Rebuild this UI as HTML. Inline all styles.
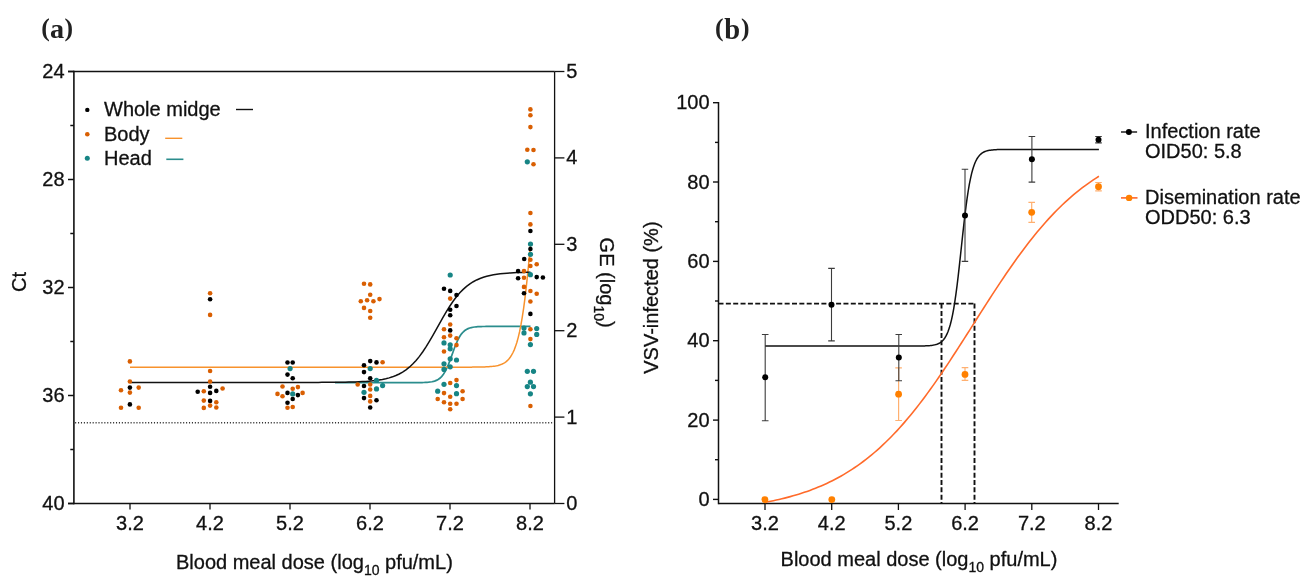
<!DOCTYPE html>
<html><head><meta charset="utf-8"><style>
html,body{margin:0;padding:0;background:#fff;width:1311px;height:588px;overflow:hidden}
svg{display:block;will-change:transform}
.t{font-family:"Liberation Sans",sans-serif;font-size:20px;fill:#111;stroke:#111;stroke-width:0.3px}
.lab{font-family:"Liberation Serif",serif;font-weight:bold;font-size:27px;fill:#222}
</style></head><body>
<svg width="1311" height="588" viewBox="0 0 1311 588">
<rect width="1311" height="588" fill="#fff"/>
<line x1="73.9" y1="70.7" x2="73.9" y2="504.3" stroke="#111" stroke-width="1.6"/>
<line x1="68.0" y1="71.5" x2="554.6" y2="71.5" stroke="#111" stroke-width="1.5"/>
<line x1="68.0" y1="503.5" x2="554.6" y2="503.5" stroke="#111" stroke-width="1.5"/>
<line x1="554.6" y1="71.5" x2="554.6" y2="503.5" stroke="#111" stroke-width="1.3"/>
<line x1="68" y1="71.5" x2="73.9" y2="71.5" stroke="#111" stroke-width="1.5"/>
<text x="64.6" y="78.0" text-anchor="end" class="t">24</text>
<line x1="68" y1="179.5" x2="73.9" y2="179.5" stroke="#111" stroke-width="1.5"/>
<text x="64.6" y="186.0" text-anchor="end" class="t">28</text>
<line x1="68" y1="287.5" x2="73.9" y2="287.5" stroke="#111" stroke-width="1.5"/>
<text x="64.6" y="294.0" text-anchor="end" class="t">32</text>
<line x1="68" y1="395.5" x2="73.9" y2="395.5" stroke="#111" stroke-width="1.5"/>
<text x="64.6" y="402.0" text-anchor="end" class="t">36</text>
<line x1="68" y1="503.5" x2="73.9" y2="503.5" stroke="#111" stroke-width="1.5"/>
<text x="64.6" y="510.0" text-anchor="end" class="t">40</text>
<line x1="70.3" y1="125.5" x2="73.9" y2="125.5" stroke="#111" stroke-width="1.5"/>
<line x1="70.3" y1="233.5" x2="73.9" y2="233.5" stroke="#111" stroke-width="1.5"/>
<line x1="70.3" y1="341.5" x2="73.9" y2="341.5" stroke="#111" stroke-width="1.5"/>
<line x1="70.3" y1="449.5" x2="73.9" y2="449.5" stroke="#111" stroke-width="1.5"/>
<line x1="554.6" y1="503.5" x2="564.4" y2="503.5" stroke="#111" stroke-width="1.3"/>
<text x="566.2" y="510.0" class="t">0</text>
<line x1="554.6" y1="417.1" x2="564.4" y2="417.1" stroke="#111" stroke-width="1.3"/>
<text x="566.2" y="423.6" class="t">1</text>
<line x1="554.6" y1="330.7" x2="564.4" y2="330.7" stroke="#111" stroke-width="1.3"/>
<text x="566.2" y="337.2" class="t">2</text>
<line x1="554.6" y1="244.3" x2="564.4" y2="244.3" stroke="#111" stroke-width="1.3"/>
<text x="566.2" y="250.8" class="t">3</text>
<line x1="554.6" y1="157.9" x2="564.4" y2="157.9" stroke="#111" stroke-width="1.3"/>
<text x="566.2" y="164.4" class="t">4</text>
<line x1="554.6" y1="71.5" x2="564.4" y2="71.5" stroke="#111" stroke-width="1.3"/>
<text x="566.2" y="78.0" class="t">5</text>
<line x1="130.0" y1="503.5" x2="130.0" y2="509.5" stroke="#111" stroke-width="1.3"/>
<text x="130.0" y="530.1" text-anchor="middle" class="t">3.2</text>
<line x1="210.0" y1="503.5" x2="210.0" y2="509.5" stroke="#111" stroke-width="1.3"/>
<text x="210.0" y="530.1" text-anchor="middle" class="t">4.2</text>
<line x1="290.0" y1="503.5" x2="290.0" y2="509.5" stroke="#111" stroke-width="1.3"/>
<text x="290.0" y="530.1" text-anchor="middle" class="t">5.2</text>
<line x1="370.0" y1="503.5" x2="370.0" y2="509.5" stroke="#111" stroke-width="1.3"/>
<text x="370.0" y="530.1" text-anchor="middle" class="t">6.2</text>
<line x1="450.0" y1="503.5" x2="450.0" y2="509.5" stroke="#111" stroke-width="1.3"/>
<text x="450.0" y="530.1" text-anchor="middle" class="t">7.2</text>
<line x1="530.0" y1="503.5" x2="530.0" y2="509.5" stroke="#111" stroke-width="1.3"/>
<text x="530.0" y="530.1" text-anchor="middle" class="t">8.2</text>
<line x1="75.1" y1="422.8" x2="554.0" y2="422.8" stroke="#333" stroke-width="1.4" stroke-dasharray="1.1 1.82"/>
<path d="M335.00 382.70 L336.64 382.70 L338.29 382.70 L339.93 382.70 L341.57 382.70 L343.21 382.70 L344.86 382.70 L346.50 382.70 L348.14 382.70 L349.79 382.70 L351.43 382.70 L353.07 382.70 L354.71 382.70 L356.36 382.70 L358.00 382.70 L359.64 382.70 L361.29 382.70 L362.93 382.70 L364.57 382.70 L366.21 382.70 L367.86 382.70 L369.50 382.70 L371.14 382.70 L372.79 382.70 L374.43 382.70 L376.07 382.70 L377.71 382.70 L379.36 382.70 L381.00 382.70 L382.64 382.70 L384.29 382.70 L385.93 382.70 L387.57 382.70 L389.21 382.70 L390.86 382.70 L392.50 382.70 L394.14 382.70 L395.79 382.70 L397.43 382.70 L399.07 382.70 L400.71 382.70 L402.36 382.70 L404.00 382.70 L405.64 382.69 L407.29 382.69 L408.93 382.69 L410.57 382.69 L412.21 382.68 L413.86 382.67 L415.50 382.66 L417.14 382.65 L418.79 382.63 L420.43 382.60 L422.07 382.56 L423.71 382.51 L425.36 382.43 L427.00 382.33 L428.64 382.19 L430.29 381.99 L431.93 381.72 L433.57 381.35 L435.21 380.84 L436.86 380.15 L438.50 379.22 L440.14 377.99 L441.79 376.36 L443.43 374.26 L445.07 371.63 L446.71 368.41 L448.36 364.64 L450.00 360.40 L451.64 355.86 L453.29 351.26 L454.93 346.82 L456.57 342.77 L458.21 339.23 L459.86 336.27 L461.50 333.87 L463.14 331.99 L464.79 330.54 L466.43 329.44 L468.07 328.62 L469.71 328.02 L471.36 327.58 L473.00 327.25 L474.64 327.02 L476.29 326.84 L477.93 326.72 L479.57 326.63 L481.21 326.57 L482.86 326.52 L484.50 326.49 L486.14 326.46 L487.79 326.44 L489.43 326.43 L491.07 326.42 L492.71 326.42 L494.36 326.41 L496.00 326.41 L497.64 326.41 L499.29 326.40 L500.93 326.40 L502.57 326.40 L504.21 326.40 L505.86 326.40 L507.50 326.40 L509.14 326.40 L510.79 326.40 L512.43 326.40 L514.07 326.40 L515.71 326.40 L517.36 326.40 L519.00 326.40 L520.64 326.40 L522.29 326.40 L523.93 326.40 L525.57 326.40 L527.21 326.40 L528.86 326.40 L530.50 326.40" fill="none" stroke="#2b8d8d" stroke-width="1.7"/>
<path d="M130.00 367.17 L131.34 367.17 L132.68 367.17 L134.02 367.17 L135.36 367.17 L136.69 367.17 L138.03 367.17 L139.37 367.17 L140.71 367.17 L142.05 367.17 L143.39 367.17 L144.73 367.17 L146.07 367.17 L147.40 367.17 L148.74 367.17 L150.08 367.17 L151.42 367.17 L152.76 367.17 L154.10 367.17 L155.44 367.17 L156.78 367.17 L158.11 367.17 L159.45 367.17 L160.79 367.17 L162.13 367.17 L163.47 367.17 L164.81 367.17 L166.15 367.17 L167.49 367.17 L168.83 367.17 L170.16 367.17 L171.50 367.17 L172.84 367.17 L174.18 367.17 L175.52 367.17 L176.86 367.17 L178.20 367.17 L179.54 367.17 L180.87 367.17 L182.21 367.17 L183.55 367.17 L184.89 367.17 L186.23 367.17 L187.57 367.17 L188.91 367.17 L190.25 367.17 L191.58 367.17 L192.92 367.17 L194.26 367.17 L195.60 367.17 L196.94 367.17 L198.28 367.17 L199.62 367.17 L200.96 367.17 L202.29 367.17 L203.63 367.17 L204.97 367.17 L206.31 367.17 L207.65 367.17 L208.99 367.17 L210.33 367.17 L211.67 367.17 L213.01 367.17 L214.34 367.17 L215.68 367.17 L217.02 367.17 L218.36 367.17 L219.70 367.17 L221.04 367.17 L222.38 367.17 L223.72 367.17 L225.05 367.17 L226.39 367.17 L227.73 367.17 L229.07 367.17 L230.41 367.17 L231.75 367.17 L233.09 367.17 L234.43 367.17 L235.76 367.17 L237.10 367.17 L238.44 367.17 L239.78 367.17 L241.12 367.17 L242.46 367.17 L243.80 367.17 L245.14 367.17 L246.48 367.17 L247.81 367.17 L249.15 367.17 L250.49 367.17 L251.83 367.17 L253.17 367.17 L254.51 367.17 L255.85 367.17 L257.19 367.17 L258.52 367.17 L259.86 367.17 L261.20 367.17 L262.54 367.17 L263.88 367.17 L265.22 367.17 L266.56 367.17 L267.90 367.17 L269.23 367.17 L270.57 367.17 L271.91 367.17 L273.25 367.17 L274.59 367.17 L275.93 367.17 L277.27 367.17 L278.61 367.17 L279.95 367.16 L281.28 367.16 L282.62 367.16 L283.96 367.16 L285.30 367.16 L286.64 367.16 L287.98 367.16 L289.32 367.16 L290.66 367.16 L291.99 367.16 L293.33 367.16 L294.67 367.16 L296.01 367.16 L297.35 367.16 L298.69 367.16 L300.03 367.16 L301.37 367.16 L302.70 367.16 L304.04 367.16 L305.38 367.16 L306.72 367.16 L308.06 367.16 L309.40 367.16 L310.74 367.16 L312.08 367.16 L313.42 367.16 L314.75 367.16 L316.09 367.16 L317.43 367.16 L318.77 367.16 L320.11 367.16 L321.45 367.16 L322.79 367.16 L324.13 367.16 L325.46 367.16 L326.80 367.16 L328.14 367.16 L329.48 367.16 L330.82 367.16 L332.16 367.16 L333.50 367.16 L334.84 367.16 L336.17 367.16 L337.51 367.16 L338.85 367.16 L340.19 367.16 L341.53 367.16 L342.87 367.16 L344.21 367.16 L345.55 367.16 L346.88 367.16 L348.22 367.16 L349.56 367.16 L350.90 367.16 L352.24 367.16 L353.58 367.16 L354.92 367.16 L356.26 367.16 L357.60 367.16 L358.93 367.16 L360.27 367.16 L361.61 367.16 L362.95 367.16 L364.29 367.16 L365.63 367.16 L366.97 367.16 L368.31 367.16 L369.64 367.16 L370.98 367.16 L372.32 367.16 L373.66 367.16 L375.00 367.16 L376.34 367.16 L377.68 367.16 L379.02 367.16 L380.35 367.16 L381.69 367.16 L383.03 367.16 L384.37 367.16 L385.71 367.16 L387.05 367.16 L388.39 367.16 L389.73 367.16 L391.07 367.16 L392.40 367.16 L393.74 367.16 L395.08 367.16 L396.42 367.16 L397.76 367.16 L399.10 367.16 L400.44 367.16 L401.78 367.16 L403.11 367.16 L404.45 367.16 L405.79 367.16 L407.13 367.16 L408.47 367.16 L409.81 367.16 L411.15 367.16 L412.49 367.16 L413.82 367.16 L415.16 367.16 L416.50 367.16 L417.84 367.16 L419.18 367.16 L420.52 367.16 L421.86 367.16 L423.20 367.16 L424.54 367.16 L425.87 367.16 L427.21 367.16 L428.55 367.16 L429.89 367.16 L431.23 367.16 L432.57 367.16 L433.91 367.16 L435.25 367.16 L436.58 367.16 L437.92 367.16 L439.26 367.16 L440.60 367.16 L441.94 367.16 L443.28 367.16 L444.62 367.16 L445.96 367.16 L447.29 367.16 L448.63 367.16 L449.97 367.16 L451.31 367.16 L452.65 367.16 L453.99 367.16 L455.33 367.16 L456.67 367.16 L458.01 367.16 L459.34 367.16 L460.68 367.16 L462.02 367.16 L463.36 367.15 L464.70 367.15 L466.04 367.15 L467.38 367.14 L468.72 367.14 L470.05 367.13 L471.39 367.13 L472.73 367.12 L474.07 367.11 L475.41 367.10 L476.75 367.09 L478.09 367.07 L479.43 367.05 L480.76 367.02 L482.10 366.99 L483.44 366.96 L484.78 366.91 L486.12 366.86 L487.46 366.79 L488.80 366.71 L490.14 366.61 L491.47 366.49 L492.81 366.35 L494.15 366.18 L495.49 365.97 L496.83 365.71 L498.17 365.40 L499.51 365.03 L500.85 364.57 L502.19 364.02 L503.52 363.35 L504.86 362.55 L506.20 361.57 L507.54 360.40 L508.88 358.98 L510.22 357.28 L511.56 355.23 L512.90 352.78 L514.23 349.86 L515.57 346.37 L516.91 342.24 L518.25 337.36 L519.59 331.63 L520.93 324.96 L522.27 317.23 L523.61 308.36 L524.94 298.28 L526.28 286.97 L527.62 274.42 L528.96 260.71 L530.30 245.95" fill="none" stroke="#f8922c" stroke-width="1.5"/>
<path d="M130.00 382.43 L133.37 382.43 L136.73 382.43 L140.10 382.43 L143.46 382.43 L146.83 382.43 L150.19 382.43 L153.56 382.43 L156.92 382.43 L160.29 382.43 L163.66 382.43 L167.02 382.43 L170.39 382.43 L173.75 382.43 L177.12 382.43 L180.48 382.43 L183.85 382.43 L187.21 382.43 L190.58 382.43 L193.95 382.43 L197.31 382.43 L200.68 382.43 L204.04 382.43 L207.41 382.43 L210.77 382.43 L214.14 382.43 L217.50 382.43 L220.87 382.43 L224.24 382.43 L227.60 382.43 L230.97 382.43 L234.33 382.43 L237.70 382.43 L241.06 382.43 L244.43 382.43 L247.79 382.43 L251.16 382.43 L254.53 382.43 L257.89 382.43 L261.26 382.43 L264.62 382.43 L267.99 382.43 L271.35 382.43 L274.72 382.43 L278.08 382.43 L281.45 382.43 L284.82 382.42 L288.18 382.42 L291.55 382.42 L294.91 382.42 L298.28 382.42 L301.64 382.41 L305.01 382.41 L308.37 382.41 L311.74 382.40 L315.11 382.39 L318.47 382.38 L321.84 382.37 L325.20 382.36 L328.57 382.34 L331.93 382.32 L335.30 382.29 L338.66 382.25 L342.03 382.21 L345.39 382.16 L348.76 382.09 L352.13 382.01 L355.49 381.90 L358.86 381.78 L362.22 381.62 L365.59 381.42 L368.95 381.17 L372.32 380.87 L375.68 380.49 L379.05 380.03 L382.42 379.46 L385.78 378.75 L389.15 377.89 L392.51 376.83 L395.88 375.54 L399.24 373.98 L402.61 372.10 L405.97 369.86 L409.34 367.20 L412.71 364.08 L416.07 360.47 L419.44 356.36 L422.80 351.74 L426.17 346.65 L429.53 341.15 L432.90 335.35 L436.26 329.35 L439.63 323.30 L443.00 317.34 L446.36 311.61 L449.73 306.23 L453.09 301.27 L456.46 296.80 L459.82 292.84 L463.19 289.38 L466.55 286.40 L469.92 283.87 L473.29 281.74 L476.65 279.96 L480.02 278.48 L483.38 277.27 L486.75 276.27 L490.11 275.45 L493.48 274.79 L496.84 274.25 L500.21 273.82 L503.58 273.46 L506.94 273.18 L510.31 272.95 L513.67 272.76 L517.04 272.61 L520.40 272.49 L523.77 272.40 L527.13 272.32 L530.50 272.26" fill="none" stroke="#111" stroke-width="1.5"/>
<circle cx="129.9" cy="361.4" r="2.3" fill="#d95f02"/>
<circle cx="129.9" cy="381.5" r="2.3" fill="#d95f02"/>
<circle cx="129.9" cy="387.6" r="2.3" fill="#000000"/>
<circle cx="138.7" cy="387.6" r="2.3" fill="#d95f02"/>
<circle cx="121.0" cy="390.2" r="2.3" fill="#d95f02"/>
<circle cx="129.9" cy="392.6" r="2.3" fill="#d95f02"/>
<circle cx="129.9" cy="404.4" r="2.3" fill="#000000"/>
<circle cx="121.0" cy="407.7" r="2.3" fill="#d95f02"/>
<circle cx="138.7" cy="407.7" r="2.3" fill="#d95f02"/>
<circle cx="210.1" cy="293.3" r="2.3" fill="#d95f02"/>
<circle cx="210.1" cy="299.2" r="2.3" fill="#000000"/>
<circle cx="210.1" cy="314.9" r="2.3" fill="#d95f02"/>
<circle cx="210.1" cy="371.0" r="2.3" fill="#d95f02"/>
<circle cx="210.1" cy="381.5" r="2.3" fill="#d95f02"/>
<circle cx="210.1" cy="386.8" r="2.3" fill="#000000"/>
<circle cx="222.6" cy="388.5" r="2.3" fill="#d95f02"/>
<circle cx="197.7" cy="391.8" r="2.3" fill="#000000"/>
<circle cx="203.8" cy="391.2" r="2.3" fill="#d95f02"/>
<circle cx="210.1" cy="392.9" r="2.3" fill="#000000"/>
<circle cx="216.3" cy="390.9" r="2.3" fill="#000000"/>
<circle cx="203.8" cy="400.6" r="2.3" fill="#d95f02"/>
<circle cx="210.1" cy="400.9" r="2.3" fill="#000000"/>
<circle cx="216.3" cy="402.2" r="2.3" fill="#d95f02"/>
<circle cx="210.1" cy="405.6" r="2.3" fill="#d95f02"/>
<circle cx="203.8" cy="407.9" r="2.3" fill="#d95f02"/>
<circle cx="216.3" cy="407.5" r="2.3" fill="#d95f02"/>
<circle cx="287.5" cy="362.5" r="2.3" fill="#000000"/>
<circle cx="292.7" cy="362.5" r="2.3" fill="#000000"/>
<circle cx="290.1" cy="368.6" r="2.6" fill="#178585"/>
<circle cx="287.5" cy="374.6" r="2.3" fill="#000000"/>
<circle cx="292.7" cy="378.2" r="2.3" fill="#000000"/>
<circle cx="282.5" cy="386.5" r="2.3" fill="#d95f02"/>
<circle cx="292.7" cy="388.7" r="2.3" fill="#d95f02"/>
<circle cx="297.9" cy="387.1" r="2.3" fill="#d95f02"/>
<circle cx="277.5" cy="393.9" r="2.3" fill="#d95f02"/>
<circle cx="287.5" cy="392.9" r="2.3" fill="#000000"/>
<circle cx="292.7" cy="393.9" r="2.6" fill="#178585"/>
<circle cx="297.9" cy="395.1" r="2.3" fill="#000000"/>
<circle cx="302.6" cy="392.9" r="2.3" fill="#d95f02"/>
<circle cx="282.5" cy="396.2" r="2.3" fill="#d95f02"/>
<circle cx="292.7" cy="399.0" r="2.3" fill="#000000"/>
<circle cx="287.5" cy="402.8" r="2.3" fill="#000000"/>
<circle cx="287.5" cy="407.7" r="2.3" fill="#d95f02"/>
<circle cx="292.7" cy="407.0" r="2.3" fill="#d95f02"/>
<circle cx="364.0" cy="283.8" r="2.3" fill="#d95f02"/>
<circle cx="370.2" cy="284.4" r="2.3" fill="#d95f02"/>
<circle cx="370.2" cy="294.7" r="2.3" fill="#d95f02"/>
<circle cx="360.8" cy="301.2" r="2.3" fill="#d95f02"/>
<circle cx="367.1" cy="300.2" r="2.3" fill="#d95f02"/>
<circle cx="373.4" cy="301.3" r="2.3" fill="#d95f02"/>
<circle cx="379.5" cy="299.1" r="2.3" fill="#d95f02"/>
<circle cx="364.0" cy="307.9" r="2.3" fill="#d95f02"/>
<circle cx="370.2" cy="311.0" r="2.3" fill="#d95f02"/>
<circle cx="370.2" cy="317.8" r="2.3" fill="#d95f02"/>
<circle cx="370.2" cy="361.1" r="2.3" fill="#000000"/>
<circle cx="376.5" cy="362.4" r="2.3" fill="#000000"/>
<circle cx="382.6" cy="362.2" r="2.3" fill="#d95f02"/>
<circle cx="364.0" cy="365.3" r="2.3" fill="#000000"/>
<circle cx="370.2" cy="368.6" r="2.6" fill="#178585"/>
<circle cx="364.0" cy="372.1" r="2.3" fill="#000000"/>
<circle cx="370.2" cy="378.2" r="2.3" fill="#000000"/>
<circle cx="376.5" cy="380.4" r="2.6" fill="#178585"/>
<circle cx="357.7" cy="384.5" r="2.3" fill="#d95f02"/>
<circle cx="364.0" cy="386.0" r="2.3" fill="#000000"/>
<circle cx="370.2" cy="384.5" r="2.3" fill="#d95f02"/>
<circle cx="382.6" cy="385.6" r="2.6" fill="#178585"/>
<circle cx="370.2" cy="389.5" r="2.3" fill="#d95f02"/>
<circle cx="376.5" cy="388.9" r="2.6" fill="#178585"/>
<circle cx="364.0" cy="392.3" r="2.6" fill="#178585"/>
<circle cx="370.2" cy="395.9" r="2.3" fill="#d95f02"/>
<circle cx="364.0" cy="398.1" r="2.3" fill="#000000"/>
<circle cx="370.2" cy="401.4" r="2.3" fill="#d95f02"/>
<circle cx="376.5" cy="400.3" r="2.3" fill="#000000"/>
<circle cx="370.2" cy="407.5" r="2.3" fill="#000000"/>
<circle cx="450.2" cy="275.0" r="2.6" fill="#178585"/>
<circle cx="444.0" cy="288.7" r="2.3" fill="#000000"/>
<circle cx="450.2" cy="290.9" r="2.3" fill="#000000"/>
<circle cx="456.5" cy="295.0" r="2.3" fill="#000000"/>
<circle cx="450.2" cy="298.6" r="2.3" fill="#d95f02"/>
<circle cx="456.5" cy="306.0" r="2.3" fill="#000000"/>
<circle cx="450.2" cy="309.7" r="2.3" fill="#000000"/>
<circle cx="450.2" cy="315.2" r="2.3" fill="#000000"/>
<circle cx="450.2" cy="324.5" r="2.3" fill="#d95f02"/>
<circle cx="444.0" cy="329.3" r="2.3" fill="#d95f02"/>
<circle cx="450.2" cy="330.4" r="2.3" fill="#000000"/>
<circle cx="450.2" cy="335.6" r="2.3" fill="#d95f02"/>
<circle cx="444.0" cy="337.3" r="2.3" fill="#d95f02"/>
<circle cx="456.5" cy="338.3" r="2.3" fill="#d95f02"/>
<circle cx="444.0" cy="342.9" r="2.6" fill="#178585"/>
<circle cx="450.2" cy="344.8" r="2.6" fill="#178585"/>
<circle cx="456.5" cy="345.1" r="2.3" fill="#d95f02"/>
<circle cx="450.2" cy="348.8" r="2.6" fill="#178585"/>
<circle cx="444.0" cy="351.5" r="2.3" fill="#d95f02"/>
<circle cx="450.2" cy="358.8" r="2.6" fill="#178585"/>
<circle cx="456.5" cy="360.0" r="2.6" fill="#178585"/>
<circle cx="444.0" cy="363.8" r="2.6" fill="#178585"/>
<circle cx="450.2" cy="366.8" r="2.6" fill="#178585"/>
<circle cx="444.0" cy="369.4" r="2.6" fill="#178585"/>
<circle cx="456.5" cy="380.1" r="2.3" fill="#d95f02"/>
<circle cx="444.0" cy="384.3" r="2.6" fill="#178585"/>
<circle cx="450.2" cy="383.0" r="2.3" fill="#d95f02"/>
<circle cx="456.5" cy="385.6" r="2.6" fill="#178585"/>
<circle cx="437.7" cy="391.2" r="2.6" fill="#178585"/>
<circle cx="444.0" cy="393.1" r="2.3" fill="#d95f02"/>
<circle cx="456.5" cy="393.7" r="2.6" fill="#178585"/>
<circle cx="462.6" cy="391.3" r="2.3" fill="#d95f02"/>
<circle cx="450.2" cy="396.7" r="2.3" fill="#d95f02"/>
<circle cx="437.7" cy="399.0" r="2.3" fill="#d95f02"/>
<circle cx="462.6" cy="399.0" r="2.3" fill="#d95f02"/>
<circle cx="444.0" cy="402.3" r="2.3" fill="#d95f02"/>
<circle cx="450.2" cy="403.7" r="2.3" fill="#d95f02"/>
<circle cx="456.5" cy="403.7" r="2.3" fill="#d95f02"/>
<circle cx="450.2" cy="409.2" r="2.3" fill="#d95f02"/>
<circle cx="530.4" cy="109.4" r="2.3" fill="#d95f02"/>
<circle cx="530.4" cy="115.2" r="2.3" fill="#d95f02"/>
<circle cx="530.4" cy="127.1" r="2.3" fill="#d95f02"/>
<circle cx="527.3" cy="149.8" r="2.3" fill="#d95f02"/>
<circle cx="533.5" cy="150.0" r="2.3" fill="#d95f02"/>
<circle cx="527.3" cy="161.8" r="2.6" fill="#178585"/>
<circle cx="533.5" cy="164.2" r="2.3" fill="#d95f02"/>
<circle cx="530.4" cy="213.0" r="2.3" fill="#d95f02"/>
<circle cx="530.4" cy="224.4" r="2.3" fill="#d95f02"/>
<circle cx="530.4" cy="231.0" r="2.3" fill="#000000"/>
<circle cx="530.5" cy="244.1" r="2.6" fill="#178585"/>
<circle cx="530.4" cy="249.0" r="2.3" fill="#000000"/>
<circle cx="530.5" cy="254.3" r="2.6" fill="#178585"/>
<circle cx="524.2" cy="259.0" r="2.3" fill="#000000"/>
<circle cx="530.4" cy="259.8" r="2.3" fill="#d95f02"/>
<circle cx="536.7" cy="264.3" r="2.3" fill="#d95f02"/>
<circle cx="530.4" cy="266.0" r="2.3" fill="#d95f02"/>
<circle cx="518.1" cy="271.1" r="2.3" fill="#000000"/>
<circle cx="524.0" cy="271.1" r="2.3" fill="#d95f02"/>
<circle cx="530.4" cy="274.7" r="2.6" fill="#178585"/>
<circle cx="518.1" cy="278.3" r="2.3" fill="#000000"/>
<circle cx="524.0" cy="277.7" r="2.3" fill="#d95f02"/>
<circle cx="536.7" cy="277.1" r="2.3" fill="#000000"/>
<circle cx="542.9" cy="277.5" r="2.3" fill="#000000"/>
<circle cx="524.0" cy="286.9" r="2.3" fill="#d95f02"/>
<circle cx="524.0" cy="293.2" r="2.3" fill="#000000"/>
<circle cx="530.4" cy="291.0" r="2.3" fill="#d95f02"/>
<circle cx="536.7" cy="293.7" r="2.3" fill="#d95f02"/>
<circle cx="530.4" cy="301.5" r="2.3" fill="#d95f02"/>
<circle cx="530.4" cy="313.9" r="2.3" fill="#000000"/>
<circle cx="524.0" cy="328.1" r="2.6" fill="#178585"/>
<circle cx="530.4" cy="329.2" r="2.3" fill="#d95f02"/>
<circle cx="536.7" cy="328.5" r="2.6" fill="#178585"/>
<circle cx="524.0" cy="332.9" r="2.6" fill="#178585"/>
<circle cx="536.7" cy="334.4" r="2.6" fill="#178585"/>
<circle cx="530.4" cy="339.1" r="2.3" fill="#d95f02"/>
<circle cx="530.4" cy="344.6" r="2.6" fill="#178585"/>
<circle cx="527.3" cy="371.3" r="2.6" fill="#178585"/>
<circle cx="533.5" cy="371.3" r="2.6" fill="#178585"/>
<circle cx="530.4" cy="382.2" r="2.6" fill="#178585"/>
<circle cx="527.3" cy="386.6" r="2.6" fill="#178585"/>
<circle cx="533.5" cy="386.6" r="2.6" fill="#178585"/>
<circle cx="530.4" cy="393.8" r="2.6" fill="#178585"/>
<circle cx="530.4" cy="406.0" r="2.3" fill="#d95f02"/>
<line x1="718.5" y1="102.0" x2="718.5" y2="504.3" stroke="#111" stroke-width="1.5"/>
<line x1="718.5" y1="503.6" x2="1118.7" y2="503.6" stroke="#111" stroke-width="1.5"/>
<line x1="713" y1="499.4" x2="718.5" y2="499.4" stroke="#111" stroke-width="1.4"/>
<text x="709.6" y="505.9" text-anchor="end" class="t">0</text>
<line x1="713" y1="420.1" x2="718.5" y2="420.1" stroke="#111" stroke-width="1.4"/>
<text x="709.6" y="426.6" text-anchor="end" class="t">20</text>
<line x1="713" y1="340.7" x2="718.5" y2="340.7" stroke="#111" stroke-width="1.4"/>
<text x="709.6" y="347.2" text-anchor="end" class="t">40</text>
<line x1="713" y1="261.4" x2="718.5" y2="261.4" stroke="#111" stroke-width="1.4"/>
<text x="709.6" y="267.9" text-anchor="end" class="t">60</text>
<line x1="713" y1="182.0" x2="718.5" y2="182.0" stroke="#111" stroke-width="1.4"/>
<text x="709.6" y="188.5" text-anchor="end" class="t">80</text>
<line x1="713" y1="102.7" x2="718.5" y2="102.7" stroke="#111" stroke-width="1.4"/>
<text x="709.6" y="109.2" text-anchor="end" class="t">100</text>
<line x1="715" y1="459.7" x2="718.5" y2="459.7" stroke="#111" stroke-width="1.4"/>
<line x1="715" y1="380.4" x2="718.5" y2="380.4" stroke="#111" stroke-width="1.4"/>
<line x1="715" y1="301.0" x2="718.5" y2="301.0" stroke="#111" stroke-width="1.4"/>
<line x1="715" y1="221.7" x2="718.5" y2="221.7" stroke="#111" stroke-width="1.4"/>
<line x1="715" y1="142.4" x2="718.5" y2="142.4" stroke="#111" stroke-width="1.4"/>
<line x1="765.0" y1="503.6" x2="765.0" y2="510" stroke="#111" stroke-width="1.3"/>
<text x="765.0" y="530.1" text-anchor="middle" class="t">3.2</text>
<line x1="831.7" y1="503.6" x2="831.7" y2="510" stroke="#111" stroke-width="1.3"/>
<text x="831.7" y="530.1" text-anchor="middle" class="t">4.2</text>
<line x1="898.4" y1="503.6" x2="898.4" y2="510" stroke="#111" stroke-width="1.3"/>
<text x="898.4" y="530.1" text-anchor="middle" class="t">5.2</text>
<line x1="965.1" y1="503.6" x2="965.1" y2="510" stroke="#111" stroke-width="1.3"/>
<text x="965.1" y="530.1" text-anchor="middle" class="t">6.2</text>
<line x1="1031.8" y1="503.6" x2="1031.8" y2="510" stroke="#111" stroke-width="1.3"/>
<text x="1031.8" y="530.1" text-anchor="middle" class="t">7.2</text>
<line x1="1098.5" y1="503.6" x2="1098.5" y2="510" stroke="#111" stroke-width="1.3"/>
<text x="1098.5" y="530.1" text-anchor="middle" class="t">8.2</text>
<path d="M718.5 303.6 H974.5" fill="none" stroke="#111" stroke-width="1.9" stroke-dasharray="5 2.35"/>
<path d="M941.5 303.6 V503" fill="none" stroke="#111" stroke-width="1.9" stroke-dasharray="5 2.35"/>
<path d="M974.5 303.6 V503" fill="none" stroke="#111" stroke-width="1.9" stroke-dasharray="5 2.35"/>
<path d="M765.00 502.36 L767.81 501.83 L770.61 501.27 L773.42 500.69 L776.22 500.09 L779.03 499.45 L781.84 498.79 L784.64 498.10 L787.45 497.38 L790.25 496.63 L793.06 495.84 L795.86 495.03 L798.67 494.17 L801.48 493.28 L804.28 492.36 L807.09 491.39 L809.89 490.38 L812.70 489.33 L815.51 488.24 L818.31 487.10 L821.12 485.92 L823.92 484.69 L826.73 483.40 L829.54 482.07 L832.34 480.69 L835.15 479.25 L837.95 477.75 L840.76 476.20 L843.56 474.58 L846.37 472.91 L849.18 471.17 L851.98 469.38 L854.79 467.51 L857.59 465.58 L860.40 463.58 L863.21 461.51 L866.01 459.37 L868.82 457.15 L871.62 454.87 L874.43 452.51 L877.24 450.07 L880.04 447.55 L882.85 444.96 L885.65 442.29 L888.46 439.55 L891.26 436.72 L894.07 433.81 L896.88 430.83 L899.68 427.76 L902.49 424.62 L905.29 421.39 L908.10 418.09 L910.91 414.72 L913.71 411.26 L916.52 407.73 L919.32 404.13 L922.13 400.46 L924.94 396.72 L927.74 392.90 L930.55 389.03 L933.35 385.09 L936.16 381.10 L938.96 377.04 L941.77 372.94 L944.58 368.78 L947.38 364.58 L950.19 360.33 L952.99 356.05 L955.80 351.74 L958.61 347.39 L961.41 343.02 L964.22 338.63 L967.02 334.23 L969.83 329.81 L972.64 325.39 L975.44 320.96 L978.25 316.54 L981.05 312.13 L983.86 307.73 L986.66 303.35 L989.47 298.99 L992.28 294.65 L995.08 290.35 L997.89 286.08 L1000.69 281.86 L1003.50 277.68 L1006.31 273.54 L1009.11 269.46 L1011.92 265.43 L1014.72 261.45 L1017.53 257.54 L1020.34 253.69 L1023.14 249.91 L1025.95 246.20 L1028.75 242.55 L1031.56 238.98 L1034.36 235.49 L1037.17 232.06 L1039.98 228.72 L1042.78 225.45 L1045.59 222.26 L1048.39 219.15 L1051.20 216.12 L1054.01 213.17 L1056.81 210.29 L1059.62 207.50 L1062.42 204.78 L1065.23 202.15 L1068.04 199.59 L1070.84 197.11 L1073.65 194.70 L1076.45 192.37 L1079.26 190.12 L1082.06 187.93 L1084.87 185.82 L1087.68 183.78 L1090.48 181.81 L1093.29 179.91 L1096.09 178.07 L1098.90 176.30" fill="none" stroke="#ff6a2a" stroke-width="1.6"/>
<path d="M765.00 346.10 L766.12 346.10 L767.23 346.10 L768.35 346.10 L769.47 346.10 L770.58 346.10 L771.70 346.10 L772.82 346.10 L773.93 346.10 L775.05 346.10 L776.17 346.10 L777.28 346.10 L778.40 346.10 L779.52 346.10 L780.63 346.10 L781.75 346.10 L782.87 346.10 L783.98 346.10 L785.10 346.10 L786.22 346.10 L787.33 346.10 L788.45 346.10 L789.57 346.10 L790.68 346.10 L791.80 346.10 L792.92 346.10 L794.03 346.10 L795.15 346.10 L796.27 346.10 L797.38 346.10 L798.50 346.10 L799.62 346.10 L800.74 346.10 L801.85 346.10 L802.97 346.10 L804.09 346.10 L805.20 346.10 L806.32 346.10 L807.44 346.10 L808.55 346.10 L809.67 346.10 L810.79 346.10 L811.90 346.10 L813.02 346.10 L814.14 346.10 L815.25 346.10 L816.37 346.10 L817.49 346.10 L818.60 346.10 L819.72 346.10 L820.84 346.10 L821.95 346.10 L823.07 346.10 L824.19 346.10 L825.30 346.10 L826.42 346.10 L827.54 346.10 L828.65 346.10 L829.77 346.10 L830.89 346.10 L832.00 346.10 L833.12 346.10 L834.24 346.10 L835.35 346.10 L836.47 346.10 L837.59 346.10 L838.70 346.10 L839.82 346.10 L840.94 346.10 L842.05 346.10 L843.17 346.10 L844.29 346.10 L845.40 346.10 L846.52 346.10 L847.64 346.10 L848.75 346.10 L849.87 346.10 L850.99 346.10 L852.10 346.10 L853.22 346.10 L854.34 346.10 L855.45 346.10 L856.57 346.10 L857.69 346.10 L858.80 346.10 L859.92 346.10 L861.04 346.10 L862.15 346.10 L863.27 346.10 L864.39 346.10 L865.51 346.10 L866.62 346.10 L867.74 346.10 L868.86 346.10 L869.97 346.10 L871.09 346.10 L872.21 346.10 L873.32 346.10 L874.44 346.10 L875.56 346.10 L876.67 346.10 L877.79 346.10 L878.91 346.10 L880.02 346.10 L881.14 346.10 L882.26 346.10 L883.37 346.10 L884.49 346.10 L885.61 346.10 L886.72 346.10 L887.84 346.10 L888.96 346.10 L890.07 346.10 L891.19 346.10 L892.31 346.10 L893.42 346.10 L894.54 346.10 L895.66 346.10 L896.77 346.10 L897.89 346.10 L899.01 346.10 L900.12 346.10 L901.24 346.10 L902.36 346.10 L903.47 346.10 L904.59 346.10 L905.71 346.10 L906.82 346.09 L907.94 346.09 L909.06 346.09 L910.17 346.09 L911.29 346.09 L912.41 346.08 L913.52 346.08 L914.64 346.07 L915.76 346.07 L916.87 346.06 L917.99 346.05 L919.11 346.04 L920.22 346.02 L921.34 346.00 L922.46 345.98 L923.57 345.95 L924.69 345.92 L925.81 345.87 L926.92 345.82 L928.04 345.75 L929.16 345.67 L930.27 345.57 L931.39 345.44 L932.51 345.29 L933.63 345.10 L934.74 344.86 L935.86 344.57 L936.98 344.21 L938.09 343.77 L939.21 343.22 L940.33 342.55 L941.44 341.73 L942.56 340.72 L943.68 339.49 L944.79 337.99 L945.91 336.16 L947.03 333.95 L948.14 331.29 L949.26 328.09 L950.38 324.30 L951.49 319.82 L952.61 314.58 L953.73 308.53 L954.84 301.64 L955.96 293.89 L957.08 285.33 L958.19 276.05 L959.31 266.18 L960.43 255.92 L961.54 245.47 L962.66 235.08 L963.78 224.96 L964.89 215.33 L966.01 206.35 L967.13 198.13 L968.24 190.76 L969.36 184.23 L970.48 178.54 L971.59 173.64 L972.71 169.47 L973.83 165.95 L974.94 162.99 L976.06 160.53 L977.18 158.50 L978.29 156.82 L979.41 155.44 L980.53 154.31 L981.64 153.39 L982.76 152.64 L983.88 152.02 L984.99 151.53 L986.11 151.12 L987.23 150.79 L988.34 150.53 L989.46 150.31 L990.58 150.14 L991.69 150.00 L992.81 149.88 L993.93 149.79 L995.04 149.72 L996.16 149.66 L997.28 149.61 L998.39 149.57 L999.51 149.54 L1000.63 149.51 L1001.75 149.49 L1002.86 149.47 L1003.98 149.46 L1005.10 149.45 L1006.21 149.44 L1007.33 149.43 L1008.45 149.42 L1009.56 149.42 L1010.68 149.42 L1011.80 149.41 L1012.91 149.41 L1014.03 149.41 L1015.15 149.41 L1016.26 149.41 L1017.38 149.40 L1018.50 149.40 L1019.61 149.40 L1020.73 149.40 L1021.85 149.40 L1022.96 149.40 L1024.08 149.40 L1025.20 149.40 L1026.31 149.40 L1027.43 149.40 L1028.55 149.40 L1029.66 149.40 L1030.78 149.40 L1031.90 149.40 L1033.01 149.40 L1034.13 149.40 L1035.25 149.40 L1036.36 149.40 L1037.48 149.40 L1038.60 149.40 L1039.71 149.40 L1040.83 149.40 L1041.95 149.40 L1043.06 149.40 L1044.18 149.40 L1045.30 149.40 L1046.41 149.40 L1047.53 149.40 L1048.65 149.40 L1049.76 149.40 L1050.88 149.40 L1052.00 149.40 L1053.11 149.40 L1054.23 149.40 L1055.35 149.40 L1056.46 149.40 L1057.58 149.40 L1058.70 149.40 L1059.81 149.40 L1060.93 149.40 L1062.05 149.40 L1063.16 149.40 L1064.28 149.40 L1065.40 149.40 L1066.52 149.40 L1067.63 149.40 L1068.75 149.40 L1069.87 149.40 L1070.98 149.40 L1072.10 149.40 L1073.22 149.40 L1074.33 149.40 L1075.45 149.40 L1076.57 149.40 L1077.68 149.40 L1078.80 149.40 L1079.92 149.40 L1081.03 149.40 L1082.15 149.40 L1083.27 149.40 L1084.38 149.40 L1085.50 149.40 L1086.62 149.40 L1087.73 149.40 L1088.85 149.40 L1089.97 149.40 L1091.08 149.40 L1092.20 149.40 L1093.32 149.40 L1094.43 149.40 L1095.55 149.40 L1096.67 149.40 L1097.78 149.40 L1098.90 149.40" fill="none" stroke="#111" stroke-width="1.5"/>
<path d="M898.6 367.9 V420.5 M895.3 367.9 H901.9 M895.3 420.5 H901.9" stroke="#ffb070" stroke-width="1.2" fill="none"/>
<path d="M965.0 367.6 V380.3 M961.7 367.6 H968.3 M961.7 380.3 H968.3" stroke="#ffb070" stroke-width="1.2" fill="none"/>
<path d="M1031.7 202.3 V222.4 M1028.4 202.3 H1035.0 M1028.4 222.4 H1035.0" stroke="#ffb070" stroke-width="1.2" fill="none"/>
<path d="M1098.5 182.5 V190.8 M1095.2 182.5 H1101.8 M1095.2 190.8 H1101.8" stroke="#ffb070" stroke-width="1.2" fill="none"/>
<circle cx="764.9" cy="499.6" r="3.4" fill="#ff8000"/>
<circle cx="831.8" cy="499.6" r="3.4" fill="#ff8000"/>
<circle cx="898.6" cy="394.2" r="3.4" fill="#ff8000"/>
<circle cx="965.0" cy="374.4" r="3.4" fill="#ff8000"/>
<circle cx="1031.7" cy="212.3" r="3.4" fill="#ff8000"/>
<circle cx="1098.5" cy="186.7" r="3.4" fill="#ff8000"/>
<path d="M765.2 334.5 V420.7 M761.9 334.5 H768.5 M761.9 420.7 H768.5" stroke="#3c3c3c" stroke-width="1.1" fill="none"/>
<circle cx="765.2" cy="377.3" r="3.0" fill="#000"/>
<path d="M831.5 268.4 V340.9 M828.2 268.4 H834.8 M828.2 340.9 H834.8" stroke="#3c3c3c" stroke-width="1.1" fill="none"/>
<circle cx="831.5" cy="304.8" r="3.0" fill="#000"/>
<path d="M898.8 334.5 V380.7 M895.5 334.5 H902.0 M895.5 380.7 H902.0" stroke="#3c3c3c" stroke-width="1.1" fill="none"/>
<circle cx="898.8" cy="357.6" r="3.0" fill="#000"/>
<path d="M965.0 169.3 V261.4 M961.7 169.3 H968.2 M961.7 261.4 H968.2" stroke="#3c3c3c" stroke-width="1.1" fill="none"/>
<circle cx="965.0" cy="215.5" r="3.0" fill="#000"/>
<path d="M1031.9 136.5 V182.1 M1028.6 136.5 H1035.2 M1028.6 182.1 H1035.2" stroke="#3c3c3c" stroke-width="1.1" fill="none"/>
<circle cx="1031.9" cy="159.2" r="3.0" fill="#000"/>
<path d="M1098.5 136.5 V142.9 M1095.2 136.5 H1101.8 M1095.2 142.9 H1101.8" stroke="#3c3c3c" stroke-width="1.1" fill="none"/>
<circle cx="1098.5" cy="139.7" r="3.0" fill="#000"/>
<text class="lab"><tspan x="41.2" y="35.8" font-size="25.7">(</tspan><tspan x="49.9" y="38.2" font-size="28.2">a</tspan><tspan x="64.6" y="35.8" font-size="25.7">)</tspan></text>
<text class="lab"><tspan x="715.1" y="35.8" font-size="25.7">(</tspan><tspan x="724.3" y="38.9" font-size="28.5">b</tspan><tspan x="741.1" y="35.8" font-size="25.7">)</tspan></text>
<text transform="translate(26.3 282) rotate(-90)" text-anchor="middle" class="t">Ct</text>
<text transform="translate(600 282.6) rotate(90)" text-anchor="middle" class="t">GE (log<tspan font-size="14" dy="6.2">10</tspan><tspan dy="-6.2">)</tspan></text>
<text transform="translate(657.5 297.6) rotate(-90)" text-anchor="middle" class="t">VSV-infected (%)</text>
<text x="314.4" y="568.7" text-anchor="middle" class="t">Blood meal dose (log<tspan font-size="14" dy="6.2">10</tspan><tspan dy="-6.2"> pfu/mL)</tspan></text>
<text x="919" y="565.8" text-anchor="middle" class="t">Blood meal dose (log<tspan font-size="14" dy="6.2">10</tspan><tspan dy="-6.2"> pfu/mL)</tspan></text>
<circle cx="87.3" cy="109.9" r="2.2" fill="#000"/>
<circle cx="87.3" cy="134.3" r="2.3" fill="#d95f02"/>
<circle cx="87.3" cy="158.2" r="2.5" fill="#178585"/>
<text x="104" y="115.8" class="t">Whole midge</text>
<text x="104" y="140.8" class="t">Body</text>
<text x="104" y="164.8" class="t">Head</text>
<line x1="236" y1="109.5" x2="253" y2="109.5" stroke="#111" stroke-width="1.4"/>
<line x1="165.2" y1="138.3" x2="182.3" y2="138.3" stroke="#f8922c" stroke-width="1.4"/>
<line x1="166.3" y1="159.3" x2="183.4" y2="159.3" stroke="#2b8d8d" stroke-width="1.6"/>
<line x1="1121" y1="132" x2="1137.1" y2="132" stroke="#111" stroke-width="1.4"/>
<circle cx="1128.9" cy="132" r="3.0" fill="#000"/>
<line x1="1121" y1="197.9" x2="1137.5" y2="197.9" stroke="#ff5c1c" stroke-width="1.5"/>
<circle cx="1129.1" cy="197.9" r="3.2" fill="#ff8000"/>
<text x="1145" y="137.9" class="t">Infection rate</text>
<text x="1145" y="157.9" class="t">OID50: 5.8</text>
<text x="1145" y="204.2" class="t">Disemination rate</text>
<text x="1145" y="224.2" class="t">ODD50: 6.3</text>
</svg>
</body></html>
